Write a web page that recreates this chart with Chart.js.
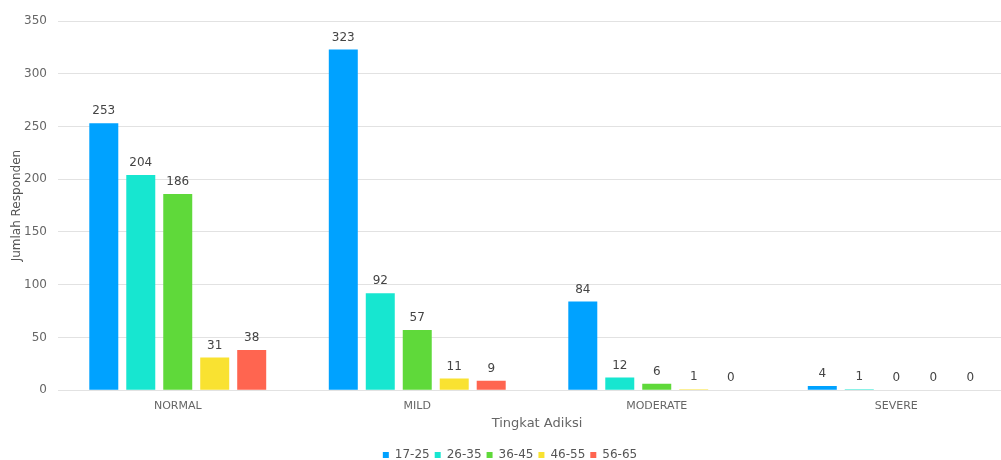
<!DOCTYPE html>
<html><head><meta charset="utf-8">
<script src="https://cdn.jsdelivr.net/npm/chart.js@4"></script>
<style>html,body{margin:0;padding:0;background:#fff;overflow:hidden;width:1001px;height:460px}#wrap{width:1016px;height:460px}</style>
</head><body><div id="wrap"><canvas id="c"></canvas></div>
<script>
const categories = ["NORMAL", "MILD", "MODERATE", "SEVERE"];
const ageGroups = ["17-25", "26-35", "36-45", "46-55", "56-65"];
const s17_25 = [253, 323, 84, 4];
const s26_35 = [204, 92, 12, 1];
const s36_45 = [186, 57, 6, 0];
const s46_55 = [31, 11, 1, 0];
const s56_65 = [38, 9, 0, 0];
const colors = ["#00A2FF", "#17E6D0", "#5FD93A", "#F9E231", "#FF6550"];
const seriesData = [s17_25, s26_35, s36_45, s46_55, s56_65];
const FONT = '"DejaVu Sans", Verdana, sans-serif';

const labelPlugin = {
  id: 'barLabels',
  afterDatasetsDraw(chart) {
    const ctx = chart.ctx;
    ctx.save();
    ctx.font = '12px ' + FONT;
    ctx.fillStyle = '#444';
    ctx.textAlign = 'center';
    ctx.textBaseline = 'bottom';
    chart.data.datasets.forEach((ds, i) => {
      const meta = chart.getDatasetMeta(i);
      meta.data.forEach((bar, j) => {
        ctx.fillText(String(ds.data[j]), bar.x, bar.y - 6);
      });
    });
    ctx.restore();
  }
};

new Chart(document.getElementById('c'), {
  type: 'bar',
  data: {
    labels: categories,
    datasets: ageGroups.map((g, i) => ({
      label: g,
      data: seriesData[i],
      backgroundColor: colors[i],
      borderWidth: 0,
      categoryPercentage: 0.772,
      barPercentage: 0.784
    }))
  },
  options: {
    responsive: true,
    maintainAspectRatio: false,
    animation: false,
    layout: { padding: { top: 21, right: 0, left: 4, bottom: -11 } },
    plugins: {
      legend: {
        position: 'bottom',
        labels: {
          usePointStyle: true,
          pointStyle: 'rect',
          boxWidth: 6, boxHeight: 6,
          padding: 5,
          color: '#555',
          font: { family: FONT, size: 12 }
        }
      },
      tooltip: { enabled: false }
    },
    scales: {
      x: {
        grid: { display: false },
        border: { display: false },
        ticks: { color: '#666', font: { family: FONT, size: 11 }, padding: 1 },
        title: { display: true, text: 'Tingkat Adiksi', color: '#666', font: { family: FONT, size: 13 }, padding: { top: 2, bottom: 13 } }
      },
      y: {
        min: 0, max: 350,
        afterFit(scale) { scale.width = 54; },
        ticks: { stepSize: 50, color: '#666', font: { family: FONT, size: 12 }, padding: 11 },
        grid: { color: '#e2e2e2', drawTicks: false, lineWidth: 1 },
        border: { display: false },
        title: { display: true, text: 'Jumlah Responden', color: '#555', font: { family: FONT, size: 12 }, padding: { top: 6, bottom: 0 } }
      }
    }
  },
  plugins: [labelPlugin]
});
</script></body></html>
